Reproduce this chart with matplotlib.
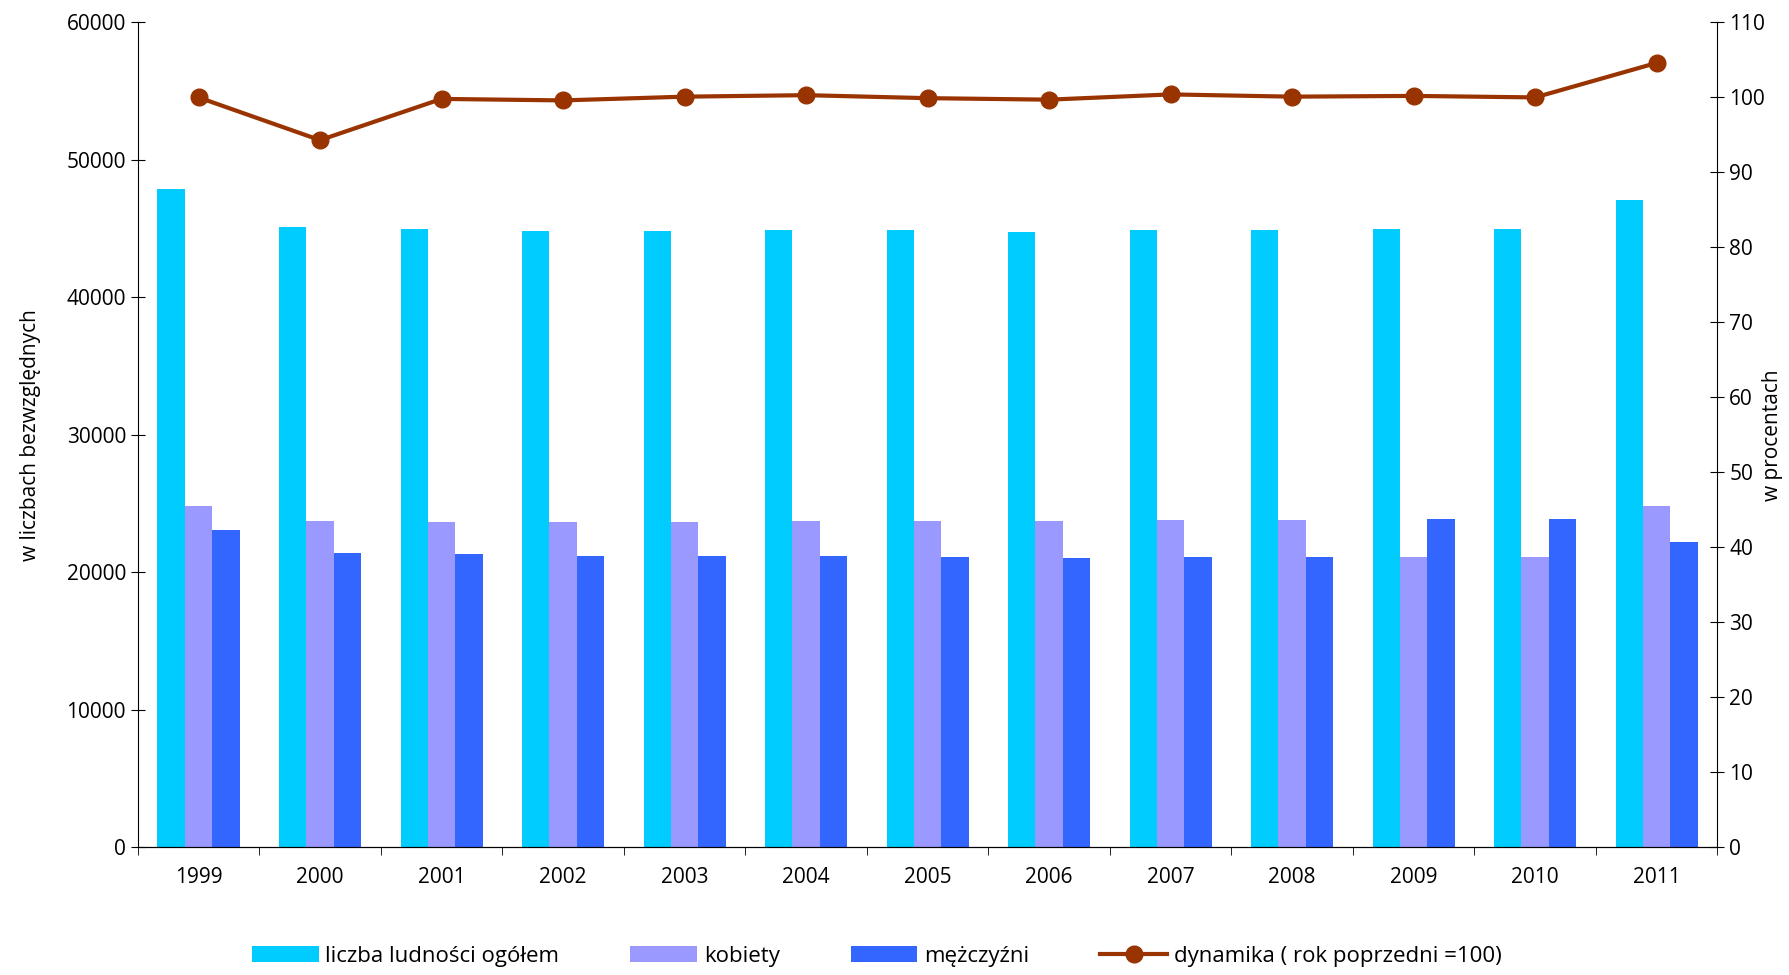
import matplotlib.pyplot as plt
import numpy as np

years = ['1999','2000','2001','2002','2003','2004','2005','2006','2007','2008','2009','2010','2011']
total = [47870,45100,44980,44850,44850,44900,44900,44780,44900,44900,44980,44980,47050]
women = [24800,23700,23650,23650,23650,23700,23700,23700,23800,23800,21100,21100,24850]
men = [23050,21400,21300,21200,21200,21200,21100,21050,21100,21100,23850,23900,22200]
dyn = [100.0,94.3,99.8,99.6,100.1,100.3,99.9,99.7,100.4,100.1,100.2,100.0,104.6]

plt.rcParams['font.family'] = ['Open Sans', 'DejaVu Sans']
fig = plt.figure(figsize=(17.89, 9.75), dpi=100)
ax = fig.add_axes([0.077, 0.131, 0.883, 0.846])
x = np.arange(len(years))
w = 0.225
ax.bar(x - w, total, w, color='#00CCFF', label='liczba ludności ogółem')
ax.bar(x, women, w, color='#9999FF', label='kobiety')
ax.bar(x + w, men, w, color='#3366FF', label='mężczyźni')
ax.set_xlim(-0.5, len(years) - 0.5)
ax.set_ylim(0, 60000)
ax.set_yticks(range(0, 60001, 10000))
ax.set_xticks(x)
ax.set_xticklabels(years)
ax.set_xticks(np.arange(-0.5, len(years)), minor=True)
ax.tick_params(axis='x', which='major', length=0, pad=14, labelsize=15)
ax.tick_params(axis='x', which='minor', length=6, direction='out')
ax.tick_params(axis='y', labelsize=15, direction='inout', length=10)
ax.set_ylabel('w liczbach bezwzględnych', fontsize=15, labelpad=18)
for s in ['top', 'right']:
    ax.spines[s].set_visible(False)
ax2 = ax.twinx()
ax2.plot(x, dyn, color='#993300', lw=3, marker='o', ms=12, label='dynamika ( rok poprzedni =100)')
ax2.set_ylim(0, 110)
ax2.set_yticks(range(0, 111, 10))
ax2.tick_params(axis='y', labelsize=15, direction='inout', length=10)
ax2.set_ylabel('w procentach', fontsize=15, labelpad=-2)
for s in ['top', 'left']:
    ax2.spines[s].set_visible(False)
h1, l1 = ax.get_legend_handles_labels()
h2, l2 = ax2.get_legend_handles_labels()
fig.legend(h1 + h2, l1 + l2, loc='lower center', ncol=4, frameon=False, fontsize=16,
           bbox_to_anchor=(0.49, -0.012), columnspacing=3.2, handlelength=3, handletextpad=0.3)
fig.savefig('out.png')
